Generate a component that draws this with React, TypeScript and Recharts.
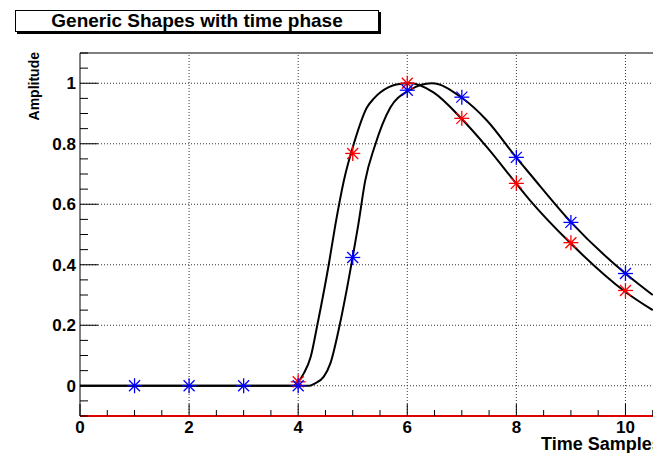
import React from "react";
import {
  ComposedChart,
  Line,
  Scatter,
  XAxis,
  YAxis,
  ReferenceLine,
} from "recharts";

// shape curves
const curveAX = [0, 1, 2, 3, 3.9, 4.0, 4.1, 4.23, 4.35, 4.56, 4.68, 4.84, 5.02, 5.26, 5.39, 5.66, 5.8, 6.05, 6.48, 7.0, 7.46, 8.0, 8.25, 9.0, 10.0, 10.5];
const curveAY = [0, 0, 0, 0, 0, 0.013, 0.04, 0.096, 0.2, 0.4, 0.53, 0.68, 0.8, 0.92, 0.95, 0.987, 0.996, 1.0, 0.97, 0.882, 0.789, 0.668, 0.613, 0.47, 0.31, 0.25];

const curveBX = [0, 1, 2, 3, 4, 4.2, 4.29, 4.47, 4.59, 4.76, 4.9, 5.0, 5.1, 5.23, 5.4, 5.69, 6.03, 6.45, 7.0, 7.46, 8.0, 8.25, 9.0, 10.0, 10.5];
const curveBY = [0, 0, 0, 0, 0, 0, 0.006, 0.03, 0.074, 0.2, 0.327, 0.426, 0.53, 0.679, 0.79, 0.92, 0.976, 1.0, 0.952, 0.877, 0.754, 0.7, 0.541, 0.371, 0.3];

// sampled points (stars)
const redX = [4, 5, 6, 7, 8, 9, 10];
const redY = [0.013, 0.768, 1.0, 0.884, 0.669, 0.473, 0.315];
const blueX = [1, 2, 3, 4, 5, 6, 7, 8, 9, 10];
const blueY = [0, 0, 0, 0, 0.424, 0.977, 0.954, 0.755, 0.54, 0.371];

const xTicks = [0, 0.5, 1, 1.5, 2, 2.5, 3, 3.5, 4, 4.5, 5, 5.5, 6, 6.5, 7, 7.5, 8, 8.5, 9, 9.5, 10, 10.5, 11];
const xMajor = [0, 2, 4, 6, 8, 10];
const yTicks = [-0.1, -0.05, 0, 0.05, 0.1, 0.15, 0.2, 0.25, 0.3, 0.35, 0.4, 0.45, 0.5, 0.55, 0.6, 0.65, 0.7, 0.75, 0.8, 0.85, 0.9, 0.95, 1, 1.05, 1.1];
const yMajor = [0, 0.2, 0.4, 0.6, 0.8, 1];

const zip = (xs: number[], ys: number[]) => xs.map((x, i) => ({ x, y: ys[i] }));
const curveA = zip(curveAX, curveAY);
const curveB = zip(curveBX, curveBY);
const redPts = zip(redX, redY);
const bluePts = zip(blueX, blueY);

const FONT = "'Liberation Sans', Arial, Helvetica, sans-serif";
const isMajor = (v: number, list: number[]) => list.some((m) => Math.abs(m - v) < 1e-6);

const XTick = (props: any) => {
  const { x, y, payload } = props;
  const major = isMajor(payload.value, xMajor);
  return (
    <g>
      <line x1={x} y1={y} x2={x} y2={y - (major ? 12 : 6)} stroke="#000" />
      {major && (
        <text x={x} y={y + 17} textAnchor="middle" fontFamily={FONT} fontWeight="bold" fontSize={17} fill="#000">
          {payload.value}
        </text>
      )}
    </g>
  );
};

const YTick = (props: any) => {
  const { x, y, payload } = props;
  const major = isMajor(payload.value, yMajor);
  return (
    <g>
      <line x1={x} y1={y} x2={x + (major ? 18 : 8)} y2={y} stroke="#000" />
      {major && (
        <text x={x - 4} y={y + 6} textAnchor="end" fontFamily={FONT} fontWeight="bold" fontSize={17} fill="#000">
          {payload.value}
        </text>
      )}
    </g>
  );
};

const star = (color: string) => (props: any) => {
  const { cx, cy } = props;
  const r = 7.5;
  const d = 5.5;
  return (
    <g stroke={color} strokeWidth={1.3}>
      <line x1={cx - r} y1={cy} x2={cx + r} y2={cy} />
      <line x1={cx} y1={cy - r} x2={cx} y2={cy + r} />
      <line x1={cx - d} y1={cy - d} x2={cx + d} y2={cy + d} />
      <line x1={cx - d} y1={cy + d} x2={cx + d} y2={cy - d} />
    </g>
  );
};

export default function App() {
  return (
    <div style={{ position: "fixed", left: 0, top: 0, width: 653, height: 453, overflow: "hidden", background: "#fff" }}>
      <div
        style={{
          position: "absolute",
          left: 15,
          top: 10,
          width: 362,
          height: 20,
          border: "1px solid #000",
          boxShadow: "2px 2px 0 #000",
          fontFamily: FONT,
          fontWeight: "bold",
          fontSize: 19,
          lineHeight: "20px",
          textAlign: "center",
          background: "#fff",
        }}
      >
        Generic Shapes with time phase
      </div>
      <div style={{ position: "absolute", left: 0, top: 0 }}>
        <ComposedChart width={720} height={453} margin={{ top: 53, right: 40, left: 0, bottom: 7 }}>
          <XAxis
            type="number"
            dataKey="x"
            domain={[0, 11]}
            ticks={xTicks}
            interval={0}
            height={30}
            tickSize={0}
            tickMargin={0}
            tickLine={false}
            tick={<XTick />}
            axisLine={{ stroke: "#e00000", strokeWidth: 2 }}
            allowDataOverflow
            label={{
              content: () => (
                <text x={541} y={450} fontFamily={FONT} fontWeight="bold" fontSize={18} fill="#000">
                  Time Samples
                </text>
              ),
            }}
          />
          <YAxis
            type="number"
            dataKey="y"
            domain={[-0.1, 1.1]}
            ticks={yTicks}
            interval={0}
            width={80}
            tickSize={0}
            tickMargin={0}
            tickLine={false}
            tick={<YTick />}
            axisLine={{ stroke: "#000" }}
            allowDataOverflow
            label={{
              content: () => (
                <text
                  transform="translate(39,52) rotate(-90)"
                  textAnchor="end"
                  fontFamily={FONT}
                  fontWeight="bold"
                  fontSize={14}
                  fill="#000"
                >
                  Amplitude
                </text>
              ),
            }}
          />
          {xMajor.filter((v) => v > 0).map((v) => (
            <ReferenceLine key={"gx" + v} x={v} stroke="#333" strokeDasharray="1 2" />
          ))}
          {yMajor.map((v) => (
            <ReferenceLine key={"gy" + v} y={v} stroke="#333" strokeDasharray="1 2" />
          ))}
          <ReferenceLine y={1.1} stroke="#000" />
          <Line data={curveA} dataKey="y" type="monotone" stroke="#000" strokeWidth={2} dot={false} isAnimationActive={false} />
          <Line data={curveB} dataKey="y" type="monotone" stroke="#000" strokeWidth={2} dot={false} isAnimationActive={false} />
          <Scatter data={redPts} dataKey="y" shape={star("#ff0000")} isAnimationActive={false} />
          <Scatter data={bluePts} dataKey="y" shape={star("#0000ff")} isAnimationActive={false} />
        </ComposedChart>
      </div>
    </div>
  );
}
